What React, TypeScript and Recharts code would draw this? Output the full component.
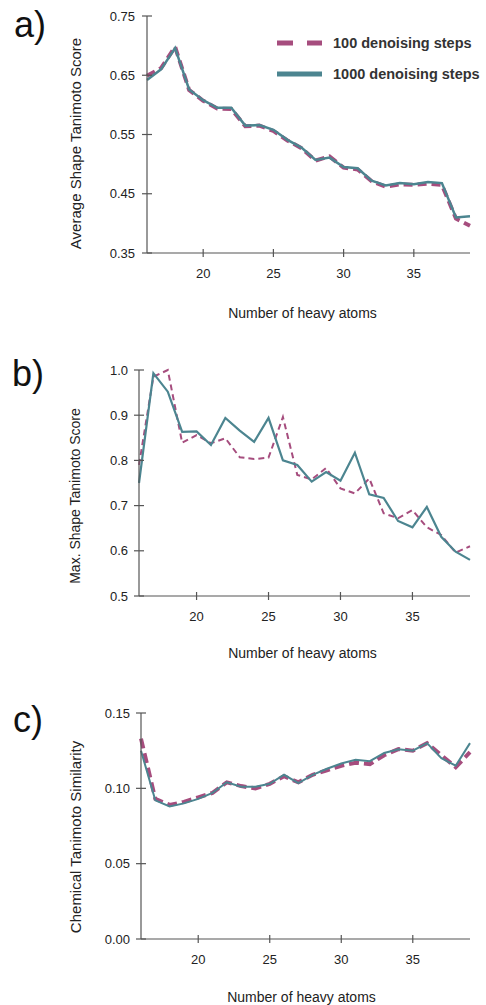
import { LineChart, Line, XAxis, YAxis, Legend } from 'recharts';

const FONT = '"Liberation Sans", Arial, Helvetica, sans-serif';
const PINK = '#A64D7E';
const TEAL = '#4C8590';
const AXIS = '#555';

// number of heavy atoms
const atoms = [16, 17, 18, 19, 20, 21, 22, 23, 24, 25, 26, 27, 28, 29, 30, 31, 32, 33, 34, 35, 36, 37, 38, 39];
const xTicks = [20, 25, 30, 35];

// a) average shape tanimoto score
const avg100 = [0.649, 0.662, 0.698, 0.625, 0.607, 0.594, 0.593, 0.564, 0.565, 0.556, 0.540, 0.527, 0.506, 0.513, 0.494, 0.491, 0.471, 0.462, 0.466, 0.465, 0.467, 0.465, 0.408, 0.396];
const avg1000 = [0.642, 0.660, 0.696, 0.626, 0.608, 0.595, 0.595, 0.565, 0.566, 0.558, 0.541, 0.528, 0.507, 0.511, 0.495, 0.493, 0.472, 0.464, 0.468, 0.466, 0.470, 0.468, 0.410, 0.412];
const avgTicks = [0.35, 0.45, 0.55, 0.65, 0.75];

// b) max shape tanimoto score
const max100 = [0.79, 0.985, 1.0, 0.839, 0.856, 0.838, 0.849, 0.807, 0.803, 0.806, 0.896, 0.768, 0.758, 0.783, 0.738, 0.727, 0.76, 0.683, 0.672, 0.69, 0.652, 0.635, 0.596, 0.61];
const max1000 = [0.75, 0.993, 0.952, 0.863, 0.864, 0.834, 0.894, 0.866, 0.841, 0.894, 0.800, 0.790, 0.753, 0.774, 0.755, 0.817, 0.725, 0.717, 0.666, 0.652, 0.697, 0.631, 0.598, 0.580];
const maxTicks = [0.5, 0.6, 0.7, 0.8, 0.9, 1.0];

// c) chemical tanimoto similarity
const chem100 = [0.133, 0.093, 0.089, 0.091, 0.094, 0.097, 0.104, 0.1015, 0.100, 0.103, 0.108, 0.104, 0.109, 0.112, 0.115, 0.117, 0.116, 0.122, 0.126, 0.125, 0.130, 0.122, 0.114, 0.124];
const chem1000 = [0.125, 0.092, 0.088, 0.090, 0.093, 0.097, 0.104, 0.101, 0.101, 0.103, 0.109, 0.1035, 0.109, 0.113, 0.1165, 0.119, 0.118, 0.1235, 0.126, 0.125, 0.130, 0.120, 0.115, 0.130];
const chemTicks = [0, 0.05, 0.1, 0.15];

const rows = (s100: number[], s1000: number[]) =>
  atoms.map((n, i) => ({ atoms: n, s100: s100[i], s1000: s1000[i] }));

const yTitle = (text: string, size: number, shiftY: number) => (props: any) => {
  const vb = props.viewBox || { x: 0, y: 0, width: 0, height: 0 };
  const cx = 75;
  const cy = vb.y + vb.height / 2 + shiftY;
  return (
    <text
      x={cx}
      y={cy}
      transform={`rotate(-90 ${cx} ${cy})`}
      textAnchor="middle"
      dominantBaseline="central"
      fontSize={size}
      fill="#222"
      fontFamily={FONT}
    >
      {text}
    </text>
  );
};

// ticks in the reference cross the axis line, so draw them ourselves
const yTick = (axisX: number, len: number, gap: number, digits: number) => (props: any) => {
  const y = props.y;
  return (
    <g>
      <line x1={axisX - len} x2={axisX + len} y1={y} y2={y} stroke={AXIS} strokeWidth={1.2} />
      <text
        x={axisX - len - gap}
        y={y}
        textAnchor="end"
        dominantBaseline="central"
        fontSize={13}
        fill="#222"
        fontFamily={FONT}
      >
        {Number(props.payload.value).toFixed(digits)}
      </text>
    </g>
  );
};

const xTick = (axisY: number) => (props: any) => {
  const x = props.x;
  return (
    <g>
      <line x1={x} x2={x} y1={axisY - 4} y2={axisY + 4} stroke={AXIS} strokeWidth={1.2} />
      <text
        x={x}
        y={axisY + 16}
        dy="0.71em"
        textAnchor="middle"
        fontSize={13}
        fill="#222"
        fontFamily={FONT}
      >
        {props.payload.value}
      </text>
    </g>
  );
};

const LegendBox = (props: any) => {
  const items = props.payload || [];
  return (
    <svg width={209} height={62} style={{ overflow: 'visible' }}>
      {items.map((it: any, i: number) => {
        const y = 13 + i * 31;
        const dashed = i === 0;
        return (
          <g key={`lg-${i}`}>
            <line
              x1={0}
              x2={45}
              y1={y}
              y2={y}
              stroke={it.color}
              strokeWidth={5}
              strokeDasharray={dashed ? '16 14' : undefined}
            />
            <text x={56} y={y + 5} fontSize={14.5} fontWeight="bold" fill="#333" fontFamily={FONT}>
              {it.value}
            </text>
          </g>
        );
      })}
    </svg>
  );
};

type PanelProps = {
  data: any[];
  top: number;
  marginTop: number;
  axisX: number;
  plotBottom: number;
  domain: [number, number];
  ticks: number[];
  digits: number;
  title: string;
  titleSize: number;
  titleShift: number;
  xTitleOffset: number;
  xTitleDx: number;
  tickGap: number;
  dashW: number;
  dash: string;
  solidW: number;
  legend?: boolean;
};

function Panel(p: PanelProps) {
  const height = 330;
  const xAxisH = height - p.plotBottom;
  return (
    <div style={{ position: 'absolute', left: 0, top: p.top }}>
      <LineChart
        width={486}
        height={height}
        data={p.data}
        margin={{ top: p.marginTop, right: 16, left: 0, bottom: 0 }}
      >
        <XAxis
          dataKey="atoms"
          type="number"
          domain={[16, 39]}
          ticks={xTicks}
          height={xAxisH}
          axisLine={{ stroke: AXIS, strokeWidth: 1.2 }}
          tickLine={false}
          tick={xTick(p.plotBottom)}
          label={{
            value: 'Number of heavy atoms',
            position: 'insideBottom',
            offset: p.xTitleOffset,
            dx: p.xTitleDx,
            fontSize: 14,
            fill: '#222',
            fontFamily: FONT,
          }}
        />
        <YAxis
          width={p.axisX}
          type="number"
          domain={p.domain}
          ticks={p.ticks}
          interval={0}
          axisLine={{ stroke: AXIS, strokeWidth: 1.2 }}
          tickLine={false}
          tick={yTick(p.axisX, 5, p.tickGap, p.digits)}
          label={{ content: yTitle(p.title, p.titleSize, p.titleShift) }}
        />
        {p.legend && (
          <Legend
            layout="horizontal"
            verticalAlign="middle"
            align="center"
            content={LegendBox}
            wrapperStyle={{ position: 'absolute', top: 30, left: 277, width: 209 }}
          />
        )}
        <Line
          type="linear"
          dataKey="s100"
          name="100 denoising steps"
          stroke={PINK}
          strokeWidth={p.dashW}
          strokeDasharray={p.dash}
          dot={false}
          isAnimationActive={false}
        />
        <Line
          type="linear"
          dataKey="s1000"
          name="1000 denoising steps"
          stroke={TEAL}
          strokeWidth={p.solidW}
          dot={false}
          isAnimationActive={false}
        />
      </LineChart>
    </div>
  );
}

export default function App() {
  return (
    <div
      style={{
        position: 'absolute',
        left: 0,
        top: 0,
        width: 486,
        height: 1005,
        overflow: 'hidden',
        background: '#fff',
        fontFamily: FONT,
      }}
    >
      <Panel
        data={rows(avg100, avg1000)}
        top={0}
        marginTop={16}
        axisX={147}
        plotBottom={253}
        domain={[0.35, 0.75]}
        ticks={avgTicks}
        digits={2}
        title="Average Shape Tanimoto Score"
        titleSize={15}
        titleShift={9}
        xTitleOffset={12}
        xTitleDx={-6}
        tickGap={7}
        dashW={4}
        dash="9 5"
        solidW={2.5}
        legend
      />
      <Panel
        data={rows(max100, max1000)}
        top={340}
        marginTop={30}
        axisX={139}
        plotBottom={256}
        domain={[0.5, 1.0]}
        ticks={maxTicks}
        digits={1}
        title="Max. Shape Tanimoto Score"
        titleSize={14}
        titleShift={13}
        xTitleOffset={12}
        xTitleDx={-2}
        tickGap={6}
        dashW={2}
        dash="6 4"
        solidW={2.2}
      />
      <Panel
        data={rows(chem100, chem1000)}
        top={680}
        marginTop={33}
        axisX={141}
        plotBottom={259}
        domain={[0, 0.15]}
        ticks={chemTicks}
        digits={2}
        title="Chemical Tanimoto Similarity"
        titleSize={15}
        titleShift={11}
        xTitleOffset={8}
        xTitleDx={-4}
        tickGap={6}
        dashW={4}
        dash="10 5"
        solidW={2}
      />
      <svg
        width={486}
        height={1005}
        style={{ position: 'absolute', left: 0, top: 0, pointerEvents: 'none' }}
      >
        <text x={14} y={37} fontSize={36} fill="#111" fontFamily={FONT}>a)</text>
        <text x={12} y={386} fontSize={36} fill="#111" fontFamily={FONT}>b)</text>
        <text x={13} y={732} fontSize={36} fill="#111" fontFamily={FONT}>c)</text>
      </svg>
    </div>
  );
}
